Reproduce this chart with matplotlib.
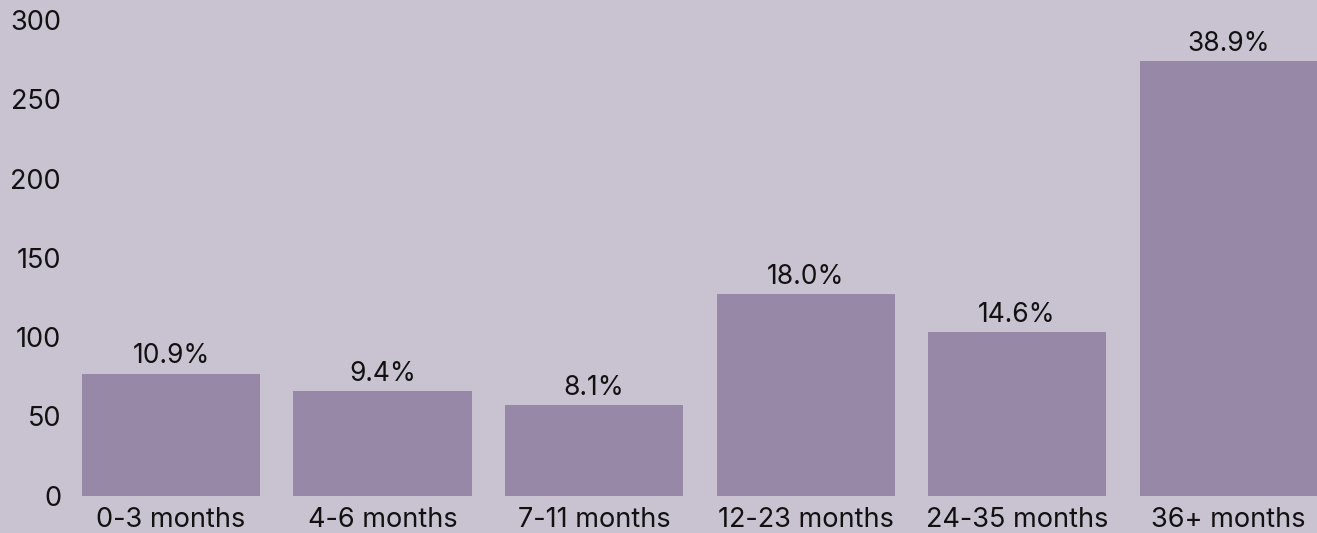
import matplotlib
matplotlib.use("Agg")
import matplotlib.pyplot as plt

categories = ["0-3 months", "4-6 months", "7-11 months", "12-23 months", "24-35 months", "36+ months"]
counts = [77, 66, 57, 127, 103, 274]
pct_labels = ["10.9%", "9.4%", "8.1%", "18.0%", "14.6%", "38.9%"]
yticks = [0, 50, 100, 150, 200, 250, 300]

BG = "#C9C3D1"
BAR = "#9788A8"
TXT = "#111111"

plt.rcParams["font.family"] = ["Inter", "DejaVu Sans"]

W, H = 1317, 533
fig = plt.figure(figsize=(W / 100, H / 100), dpi=100, facecolor=BG)
left_px, right_px, top_px, bottom_px = 75, 1317, 20, 495.7
ax = fig.add_axes([left_px / W, 1 - bottom_px / H, (right_px - left_px) / W, (bottom_px - top_px) / H])
ax.set_facecolor(BG)

x = list(range(len(categories)))
bars = ax.bar(x, counts, width=0.842, color=BAR)
ax.bar_label(bars, labels=pct_labels, padding=3, fontsize=19, color=TXT)

ax.set_xlim(-0.454, 5.418)
ax.set_ylim(0, 300)
ax.set_yticks(yticks)
ax.set_xticks(x)
ax.set_xticklabels(categories)
ax.tick_params(axis="both", length=0, labelsize=19.5, colors=TXT)
ax.tick_params(axis="y", pad=10)
ax.tick_params(axis="x", pad=8)
for s in ax.spines.values():
    s.set_visible(False)

fig.savefig("out.png", dpi=100, facecolor=BG)
